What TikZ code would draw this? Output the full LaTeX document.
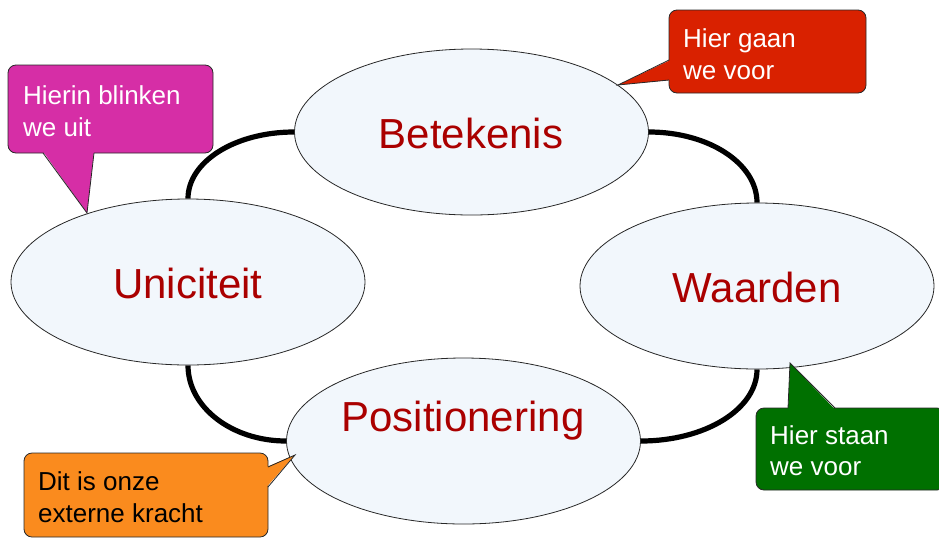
\documentclass[tikz,border=0pt]{standalone}
\usepackage{fontspec}
\setmainfont{Liberation Sans}
\usetikzlibrary{shapes.geometric}

\definecolor{ovalfill}{RGB}{242,247,252}
\definecolor{ovaltext}{RGB}{170,0,0}
\definecolor{calred}{RGB}{217,33,0}
\definecolor{calmagenta}{RGB}{214,46,166}
\definecolor{calgreen}{RGB}{0,112,0}
\definecolor{calorange}{RGB}{250,139,30}
\definecolor{edge}{RGB}{40,40,40}

\pgfdeclarelayer{back}
\pgfsetlayers{back,main}

\tikzset{
  oval/.style={ellipse, draw=edge, line width=0.8pt, fill=ovalfill,
    minimum width=354pt, minimum height=166pt, inner sep=0pt},
  ovallabel/.style={text=ovaltext, inner sep=0pt,
    font=\fontsize{42pt}{50pt}\selectfont},
  ring/.style={line width=5.2pt, black},
  calbox/.style={draw=edge, line width=0.8pt, rounded corners=8pt,
    inner sep=0pt},
  caltext/.style={anchor=north west, inner sep=0pt, align=left,
    font=\fontsize{26pt}{31.5pt}\selectfont},
  tipline/.style={draw=edge, line width=0.8pt, line join=miter},
}

\begin{document}
\begin{tikzpicture}[x=1pt, y=-1pt]
\useasboundingbox (0,0) rectangle (939,547);

% the four value ovals
\node[oval] (bet) at (471.5,132) {};
\node[oval] (uni) at (188,282) {};
\node[oval] (waa) at (757,286) {};
\node[oval] (pos) at (463.5,441) {};

\node[ovallabel] (tbet) at (471,133) {Betekenis};
\node[ovallabel] (tuni) at (188,283) {Uniciteit};
\node[ovallabel] (twaa) at (757,287) {Waarden};
\node[ovallabel] (tpos) at (463,421) {Positionering};

% ring connecting the ovals, behind them
\begin{pgfonlayer}{back}
\draw[ring] (bet.west) .. controls +(-59,0) and +(0,-37) .. (uni.north);
\draw[ring] (bet.east) .. controls +(60,0) and +(0,-39) .. (waa.north);
\draw[ring] (uni.south) .. controls +(0,42) and +(-54,0) .. (pos.west);
\draw[ring] (waa.south) .. controls +(0,40) and +(64,0) .. (pos.east);
\end{pgfonlayer}

% callout: red
\node[calbox, fill=calred, minimum width=197pt, minimum height=83pt] (rbox) at (767.5,51.5) {};
\fill[calred] (670.5,60) -- (618,85) -- (670.5,80) -- cycle;
\draw[tipline] (669,60) -- (618,85) -- (669,80);
\node[caltext, text=white] (rtxt) at (683,28.5) {Hier gaan\\we voor};

% callout: magenta
\node[calbox, fill=calmagenta, minimum width=205pt, minimum height=88pt] (mbox) at (110.5,109) {};
\fill[calmagenta] (43,151.5) -- (87,213) -- (94,151.5) -- cycle;
\draw[tipline] (43,153) -- (87,213) -- (94,153);
\node[caltext, text=white] (mtxt) at (23,85.5) {Hierin blinken\\we uit};

% callout: green
\node[calbox, fill=calgreen, minimum width=189pt, minimum height=82pt] (gbox) at (850.5,449) {};
\fill[calgreen] (788,409.5) -- (790,363) -- (835,409.5) -- cycle;
\draw[tipline] (788,408) -- (790,363) -- (835,408);
\node[caltext, text=white] (gtxt) at (770,425) {Hier staan\\we voor};

% callout: orange
\node[calbox, fill=calorange, minimum width=244pt, minimum height=84pt] (obox) at (146,495) {};
\fill[calorange] (266.5,467) -- (295,455) -- (266.5,487) -- cycle;
\draw[tipline] (268,467) -- (295,455) -- (268,487);
\node[caltext, text=black] (otxt) at (38,471.5) {Dit is onze\\externe kracht};
\end{tikzpicture}
\end{document}
